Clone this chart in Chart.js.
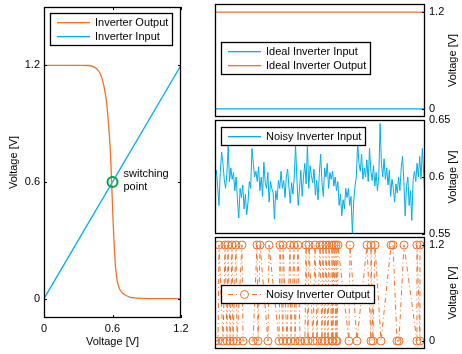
<!DOCTYPE html>
<html>
<head>
<meta charset="utf-8">
<script src="https://cdn.jsdelivr.net/npm/chart.js@4.4.0/dist/chart.umd.min.js"></script>
<style>
  html, body { margin: 0; padding: 0; background: #fff; }
  #wrap { position: relative; width: 462px; height: 354px; overflow: hidden; }
  canvas { position: absolute; top: 0; }
</style>
</head>
<body>
<div id="wrap">
  <canvas id="transfer" width="200" height="354" style="left:0"></canvas>
  <canvas id="ideal" width="262" height="354" style="left:200px"></canvas>
  <canvas id="noisyIn" width="262" height="354" style="left:200px"></canvas>
  <canvas id="noisyOut" width="262" height="354" style="left:200px"></canvas>
</div>
<script>
const ORANGE = 'rgb(242,113,38)';
const BLUE = 'rgb(0,174,230)';
const GREEN = 'rgb(0,160,80)';
const FAMILY = '"Liberation Sans", Arial, sans-serif';
const FONT = { family: FAMILY, size: 11 };

// left: inverter transfer curve
const vin  = [0, 0.3, 0.39, 0.43, 0.466, 0.495, 0.524, 0.548, 0.568, 0.583, 0.592, 0.6, 0.606, 0.612, 0.62, 0.627, 0.64, 0.655, 0.671, 0.69, 0.715, 0.75, 0.785, 0.85, 1.0, 1.2];
const vout = [1.2, 1.2, 1.199, 1.193, 1.18, 1.154, 1.095, 1.01, 0.874, 0.74, 0.6, 0.48, 0.39, 0.31, 0.22, 0.16, 0.095, 0.06, 0.04, 0.027, 0.017, 0.008, 0.004, 0.001, 0, 0];
const inputX = [0, 1.2];
const inputY = [0, 1.2];
const switchX = 0.6;
const switchY = 0.6;
const transferTicks = [0, 0.6, 1.2];

// right top: ideal levels
const idealTime = [0, 159];
const idealInput = [0, 0];
const idealOutput = [1.2, 1.2];
const railTicks = [0, 1.2];

// right middle: noisy input
const noisyInput = [
  0.600, 0.606, 0.592, 0.575, 0.604, 0.622, 0.612, 0.598, 0.590, 0.603, 0.627,
  0.596, 0.608, 0.598, 0.604, 0.588, 0.600, 0.580, 0.564, 0.590, 0.582,
  0.593, 0.572, 0.585, 0.567, 0.578, 0.596, 0.590, 0.625, 0.612, 0.600,
  0.605, 0.596, 0.609, 0.588, 0.600, 0.583, 0.613, 0.595, 0.590, 0.604,
  0.578, 0.596, 0.590, 0.586, 0.563, 0.588, 0.580, 0.597, 0.590, 0.605,
  0.590, 0.597, 0.582, 0.600, 0.607, 0.591, 0.577, 0.595, 0.585, 0.600,
  0.628, 0.598, 0.575, 0.590, 0.606, 0.583, 0.600, 0.612, 0.594, 0.628,
  0.590, 0.610, 0.601, 0.595, 0.607, 0.584, 0.597, 0.580, 0.603, 0.620,
  0.595, 0.583, 0.608, 0.600, 0.612, 0.590, 0.604, 0.598, 0.605, 0.592,
  0.600, 0.588, 0.596, 0.575, 0.585, 0.566, 0.580, 0.572, 0.590, 0.582,
  0.590, 0.575, 0.583, 0.551, 0.578, 0.592, 0.600, 0.630, 0.612, 0.605,
  0.620, 0.598, 0.608, 0.600, 0.615, 0.596, 0.625, 0.605, 0.597, 0.610,
  0.592, 0.604, 0.588, 0.600, 0.647, 0.612, 0.600, 0.616, 0.598, 0.608,
  0.593, 0.606, 0.583, 0.598, 0.590, 0.578, 0.594, 0.586, 0.600, 0.588,
  0.608, 0.618, 0.596, 0.566, 0.592, 0.600, 0.575, 0.588, 0.562, 0.597,
  0.605, 0.596, 0.612, 0.600, 0.618, 0.598, 0.625, 0.603, 0.580
];
const noisyTicks = [0.55, 0.6, 0.65];

// right bottom: noisy output
const outTime = [0, 2.3, 3.0, 6.1, 7.6, 9.1, 9.8, 11.4, 12.9, 13.6, 15.9, 16.7, 20.4, 21.2, 28.8, 31.8, 32.6, 34.1, 40.1, 40.9,
  48.5, 49.2, 51.5, 51.5, 54.5, 56.8, 57.5, 59.8, 60.6, 62.8, 64.4, 68.1, 68.9, 70.4, 71.2, 74.2, 75.7, 77.2, 79.5, 81.0,
  81.8, 83.3, 84.0, 85.6, 86.3, 88.6, 88.6, 89.3, 90.1, 91.6, 91.6, 92.4, 93.1, 101.4, 102.2, 107.5, 115.1, 118.1, 118.1, 119.6,
  121.1, 125.7, 133.3, 134.8, 137.8, 139.3, 143.1, 152.9, 152.9, 155.2, 155.2];
const outLevel = [0, 0, 1.2, 0, 1.2, 0, 1.2, 0, 1.2, 0, 1.2, 0, 1.2, 0, 0, 1.2, 0, 1.2, 0, 1.2,
  0, 1.2, 0, 1.2, 0, 1.2, 0, 1.2, 0, 1.2, 0, 0, 1.2, 0, 1.2, 0, 1.2, 0, 1.2, 0,
  1.2, 0, 1.2, 0, 1.2, 0, 1.2, 0, 1.2, 0, 1.2, 0, 1.2, 0, 1.2, 0, 1.2, 0, 1.2, 0,
  1.2, 0, 1.2, 1.2, 0, 0, 1.2, 0, 1.2, 0, 1.2];

const pts = (xs, ys) => xs.map((x, i) => ({ x: x, y: ys[i] }));

const fixSize = size => s => {
  if (s.isHorizontal()) s.height = size; else s.width = size;
  s.paddingLeft = s.paddingRight = s.paddingTop = s.paddingBottom = 0;
};
const setTicks = list => s => { s.ticks = list.map(v => ({ value: v })); };

// box, inward ticks, legend, axis titles (config kept in closure)
function makeFrame(o) {
  return {
    id: 'frame',
    afterDatasetsDraw(chart) {
      const ctx = chart.ctx, a = chart.chartArea;
      ctx.save();
      ctx.strokeStyle = '#000';
      ctx.lineWidth = 1;
      ctx.beginPath();
      (o.xTicks || []).forEach(v => {
        const x = Math.round(chart.scales.x.getPixelForValue(v)) + 0.5;
        ctx.moveTo(x, a.bottom); ctx.lineTo(x, a.bottom - 3);
        ctx.moveTo(x, a.top); ctx.lineTo(x, a.top + 3);
      });
      (o.yTicks || []).forEach(v => {
        const y = Math.round(chart.scales.y.getPixelForValue(v)) + 0.5;
        if (o.leftTicks) { ctx.moveTo(a.left, y); ctx.lineTo(a.left + 3, y); }
        ctx.moveTo(a.right, y); ctx.lineTo(a.right - 3, y);
      });
      ctx.stroke();
      ctx.lineWidth = 1.3;
      ctx.strokeRect(a.left + 0.5, a.top + 0.5, a.width - 1, a.height - 1);

      ctx.font = '11px ' + FAMILY;
      ctx.textBaseline = 'middle';

      if (o.note) {
        const x = chart.scales.x.getPixelForValue(o.note.x) + 11;
        const y = chart.scales.y.getPixelForValue(o.note.y);
        ctx.fillStyle = '#000';
        ctx.textAlign = 'left';
        ctx.fillText(o.note.lines[0], x, y - 8);
        ctx.fillText(o.note.lines[1], x, y + 5);
      }

      if (o.legend) {
        const L = o.legend;
        const tw = Math.max(...L.items.map(it => ctx.measureText(it.label).width));
        const bx = Math.round(a.left + L.dx), by = Math.round(a.top + L.dy);
        const bw = Math.round(45 + tw + 4), bh = L.items.length * 14 + 4;
        ctx.fillStyle = '#fff';
        ctx.fillRect(bx, by, bw, bh);
        ctx.strokeStyle = '#000';
        ctx.lineWidth = 1.3;
        ctx.strokeRect(bx + 0.5, by + 0.5, bw, bh);
        L.items.forEach((it, i) => {
          const y = by + 9 + i * 14;
          if (it.dash) {
            ctx.strokeStyle = it.color;
            ctx.lineWidth = 1.2;
            ctx.setLineDash(it.dash);
            ctx.beginPath(); ctx.moveTo(bx + 7, y + 0.5); ctx.lineTo(bx + 40, y + 0.5); ctx.stroke();
            ctx.setLineDash([]);
          } else {
            ctx.fillStyle = it.color;
            ctx.fillRect(bx + 7, y, 33, 1.3);
          }
          if (it.marker) {
            ctx.fillStyle = '#fff';
            ctx.strokeStyle = it.color;
            ctx.lineWidth = 1;
            ctx.beginPath(); ctx.arc(bx + 23.5, y + 0.5, 4, 0, Math.PI * 2); ctx.fill(); ctx.stroke();
          }
          ctx.fillStyle = '#000';
          ctx.textAlign = 'left';
          ctx.fillText(it.label, bx + 45, y + 0.5);
        });
      }

      ctx.fillStyle = '#000';
      ctx.textAlign = 'center';
      if (o.xTitle) ctx.fillText(o.xTitle, (a.left + a.right) / 2, 342);
      if (o.yTitle) {
        ctx.translate(o.yTitle.x, (a.top + a.bottom) / 2);
        ctx.rotate(-Math.PI / 2);
        ctx.fillText(o.yTitle.text, 0, 0);
      }
      ctx.restore();
    }
  };
}

const baseOpts = {
  responsive: false,
  animation: false,
  devicePixelRatio: 1,
  events: [],
  plugins: { legend: { display: false }, tooltip: { enabled: false } }
};
const axisStyle = (pad) => ({
  grid: { display: false, drawTicks: false },
  border: { display: false },
  ticks: { font: FONT, color: '#000', padding: pad, autoSkip: false, maxRotation: 0, callback: v => String(v) }
});

// left chart
new Chart(document.getElementById('transfer'), {
  type: 'scatter',
  data: {
    datasets: [
      { data: [{ x: switchX, y: switchY }], pointRadius: 5, pointBorderWidth: 2,
        pointBorderColor: GREEN, pointBackgroundColor: 'rgba(0,0,0,0)' },
      { data: pts(vin, vout), showLine: true, borderColor: ORANGE, borderWidth: 1.3,
        pointRadius: 0, cubicInterpolationMode: 'monotone' },
      { data: pts(inputX, inputY), showLine: true, borderColor: BLUE, borderWidth: 1.3, pointRadius: 0 }
    ]
  },
  options: Object.assign({}, baseOpts, {
    layout: { padding: { left: 0, top: 4, right: 19, bottom: 0 } },
    scales: {
      x: Object.assign(axisStyle(4), { type: 'linear', min: 0, max: 1.2,
        afterBuildTicks: setTicks(transferTicks), afterFit: fixSize(36) }),
      y: Object.assign(axisStyle(4), { type: 'linear', min: -0.1, max: 1.5,
        afterBuildTicks: setTicks(transferTicks), afterFit: fixSize(44) })
    }
  }),
  plugins: [makeFrame({
    xTicks: transferTicks, yTicks: transferTicks, leftTicks: true,
    note: { x: switchX, y: switchY, lines: ['switching', 'point'] },
    legend: { dx: 6, dy: 6, items: [
      { label: 'Inverter Output', color: ORANGE },
      { label: 'Inverter Input', color: BLUE }
    ] },
    xTitle: 'Voltage [V]',
    yTitle: { text: 'Voltage [V]', x: 14 }
  })]
});

// right panels
function rightPanel(id, top, bottom, yMin, yMax, ticks, datasets, legend, xMax) {
  new Chart(document.getElementById(id), {
    type: 'scatter',
    data: { datasets: datasets },
    options: Object.assign({}, baseOpts, {
      layout: { padding: { left: 15, top: top, right: 0, bottom: 354 - bottom } },
      scales: {
        x: { type: 'linear', display: false, min: 0, max: xMax },
        y: Object.assign(axisStyle(4), { type: 'linear', position: 'right', min: yMin, max: yMax,
          afterBuildTicks: setTicks(ticks), afterFit: fixSize(37) })
      }
    }),
    plugins: [makeFrame({ yTicks: ticks, legend: legend, yTitle: { text: 'Voltage [V]', x: 253 } })]
  });
}

rightPanel('ideal', 4, 117, -0.1, 1.3, railTicks, [
  { data: pts(idealTime, idealInput), showLine: true, borderColor: BLUE, borderWidth: 1.3, pointRadius: 0 },
  { data: pts(idealTime, idealOutput), showLine: true, borderColor: ORANGE, borderWidth: 1.3, pointRadius: 0 }
], { dx: 6, dy: 38, items: [
  { label: 'Ideal Inverter Input', color: BLUE },
  { label: 'Ideal Inverter Output', color: ORANGE }
] }, 159);

rightPanel('noisyIn', 120, 234, 0.55, 0.65, noisyTicks, [
  { data: noisyInput.map((v, i) => ({ x: i, y: v })), showLine: true, borderColor: BLUE, borderWidth: 1, pointRadius: 0 }
], { dx: 6, dy: 7, items: [
  { label: 'Noisy Inverter Input', color: BLUE }
] }, noisyInput.length - 1);

rightPanel('noisyOut', 237, 349, -0.1, 1.3, railTicks, [
  { data: pts(outTime, outLevel), showLine: true, borderColor: ORANGE, borderWidth: 1,
    borderDash: [5, 3, 1, 3], pointRadius: 4, pointBorderWidth: 1, pointStyle: 'circle',
    pointBorderColor: ORANGE, pointBackgroundColor: 'rgba(0,0,0,0)' }
], { dx: 6, dy: 48, items: [
  { label: 'Noisy Inverter Output', color: ORANGE, dash: [5, 3, 1, 3], marker: true }
] }, 159);
</script>
</body>
</html>
